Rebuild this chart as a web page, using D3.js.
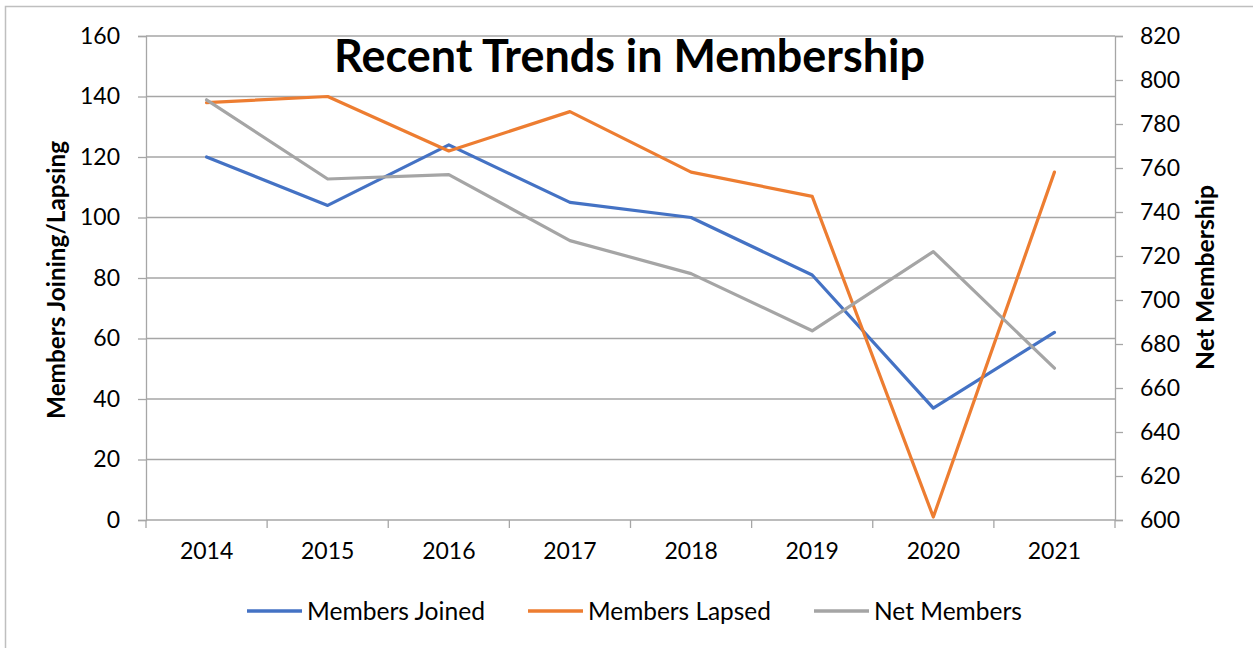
<!DOCTYPE html>
<html><head><meta charset="utf-8">
<script src="https://cdn.jsdelivr.net/npm/d3@7"></script>
<style>
html,body{margin:0;padding:0;background:#fff;}
svg{display:block;font-family:Lato,"Open Sans",sans-serif;}
</style></head>
<body>
<svg id="chart" width="1253" height="648"></svg>
<script>
const years = ["2014","2015","2016","2017","2018","2019","2020","2021"];
const membersJoined = [120,104,124,105,100,81,37,62];
const membersLapsed = [138,140,122,135,115,107,1,115];
const netMembers = [791,755,757,727,712,686,722,669];
const leftTicks = [0,20,40,60,80,100,120,140,160];
const rightTicks = [600,620,640,660,680,700,720,740,760,780,800,820];
const seriesNames = ["Members Joined","Members Lapsed","Net Members"];
const seriesColors = ["#4472C4","#ED7D31","#A5A5A5"];

const svg = d3.select("#chart");
const L = 146, R = 1115, T = 36, B = 520;
const gridColor = "#a6a6a6";

// fit a text element's font-size to a target width
function fit(sel, target){
  sel.each(function(){
    const fs = parseFloat(d3.select(this).attr("font-size"));
    const len = this.getComputedTextLength();
    if (len > 0) d3.select(this).attr("font-size", (fs*target/len).toFixed(2));
  });
}

// outer chart border
svg.append("rect").attr("x",5.5).attr("y",6.5).attr("width",1300).attr("height",700)
  .attr("fill","none").attr("stroke","#bfbfbf").attr("stroke-width",1.5);

const x = d3.scaleBand().domain(years).range([L,R]);
const yL = d3.scaleLinear().domain([0,160]).range([B,T]);
const yR = d3.scaleLinear().domain([600,820]).range([B,T]);
const cx = d => x(d) + x.bandwidth()/2;

// gridlines
svg.append("g").selectAll("line").data(leftTicks).join("line")
  .attr("x1",L).attr("x2",R).attr("y1",d=>yL(d)).attr("y2",d=>yL(d))
  .attr("stroke",gridColor).attr("stroke-width",1.3);

// left axis
const gl = svg.append("g").attr("transform",`translate(${L},0)`)
  .call(d3.axisLeft(yL).tickValues(leftTicks).tickSize(8).tickPadding(18));
gl.select(".domain").attr("stroke",gridColor).attr("stroke-width",1.3);
gl.selectAll(".tick line").attr("stroke",gridColor).attr("stroke-width",1.3);
gl.selectAll("text").attr("font-size",23).attr("fill","#000").attr("font-family","Lato");

// right axis
const gr = svg.append("g").attr("transform",`translate(${R},0)`)
  .call(d3.axisRight(yR).tickValues(rightTicks).tickSize(8).tickPadding(17));
gr.select(".domain").attr("stroke",gridColor).attr("stroke-width",1.3);
gr.selectAll(".tick line").attr("stroke",gridColor).attr("stroke-width",1.3);
gr.selectAll("text").attr("font-size",23).attr("fill","#000").attr("font-family","Lato");

// bottom axis
const gb = svg.append("g").attr("transform",`translate(0,${B})`)
  .call(d3.axisBottom(x).tickSize(0).tickPadding(23));
gb.select(".domain").remove();
gb.selectAll("text").attr("font-size",23).attr("fill","#000").attr("font-family","Lato");
const bounds = years.map(d=>x(d)).concat([x(years[years.length-1])+x.step()]);
svg.append("g").selectAll("line").data(bounds).join("line")
  .attr("x1",d=>d).attr("x2",d=>d).attr("y1",B).attr("y2",B+8)
  .attr("stroke",gridColor).attr("stroke-width",1.3);

// lines
const lineL = d3.line().x((d,i)=>cx(years[i])).y(d=>yL(d));
const lineR = d3.line().x((d,i)=>cx(years[i])).y(d=>yR(d));
const paths = [[membersJoined,lineL],[membersLapsed,lineL],[netMembers,lineR]];
paths.forEach(([data,gen],i)=>{
  svg.append("path").datum(data).attr("d",gen).attr("fill","none")
    .attr("stroke",seriesColors[i]).attr("stroke-width",3.2)
    .attr("stroke-linejoin","round").attr("stroke-linecap","round");
});

// title
svg.append("text").attr("x",629.5).attr("y",72).attr("text-anchor","middle")
  .attr("font-size",40).attr("font-weight","bold").attr("fill","#000")
  .text("Recent Trends in Membership").call(fit, 591);

// axis titles
svg.append("text").attr("transform","translate(65,280) rotate(-90)").attr("text-anchor","middle")
  .attr("font-size",20).attr("font-weight","bold").attr("fill","#000")
  .text("Members Joining/Lapsing").call(fit, 278);
svg.append("text").attr("transform","translate(1214,277.5) rotate(-90)").attr("text-anchor","middle")
  .attr("font-size",20).attr("font-weight","bold").attr("fill","#000")
  .text("Net Membership").call(fit, 185);

// legend
const legX = [247,528,814];
const legW = [178,183,148];
const lg = svg.append("g").selectAll("g").data(seriesNames).join("g")
  .attr("transform",(d,i)=>`translate(${legX[i]},611)`);
lg.append("line").attr("x1",0).attr("x2",55).attr("y1",0).attr("y2",0)
  .attr("stroke",(d,i)=>seriesColors[i]).attr("stroke-width",3.4);
lg.append("text").attr("x",60).attr("y",8.5).attr("font-size",23).attr("fill","#000").text(d=>d)
  .each(function(d,i){ d3.select(this).call(fit, legW[i]); });
</script>
</body></html>
